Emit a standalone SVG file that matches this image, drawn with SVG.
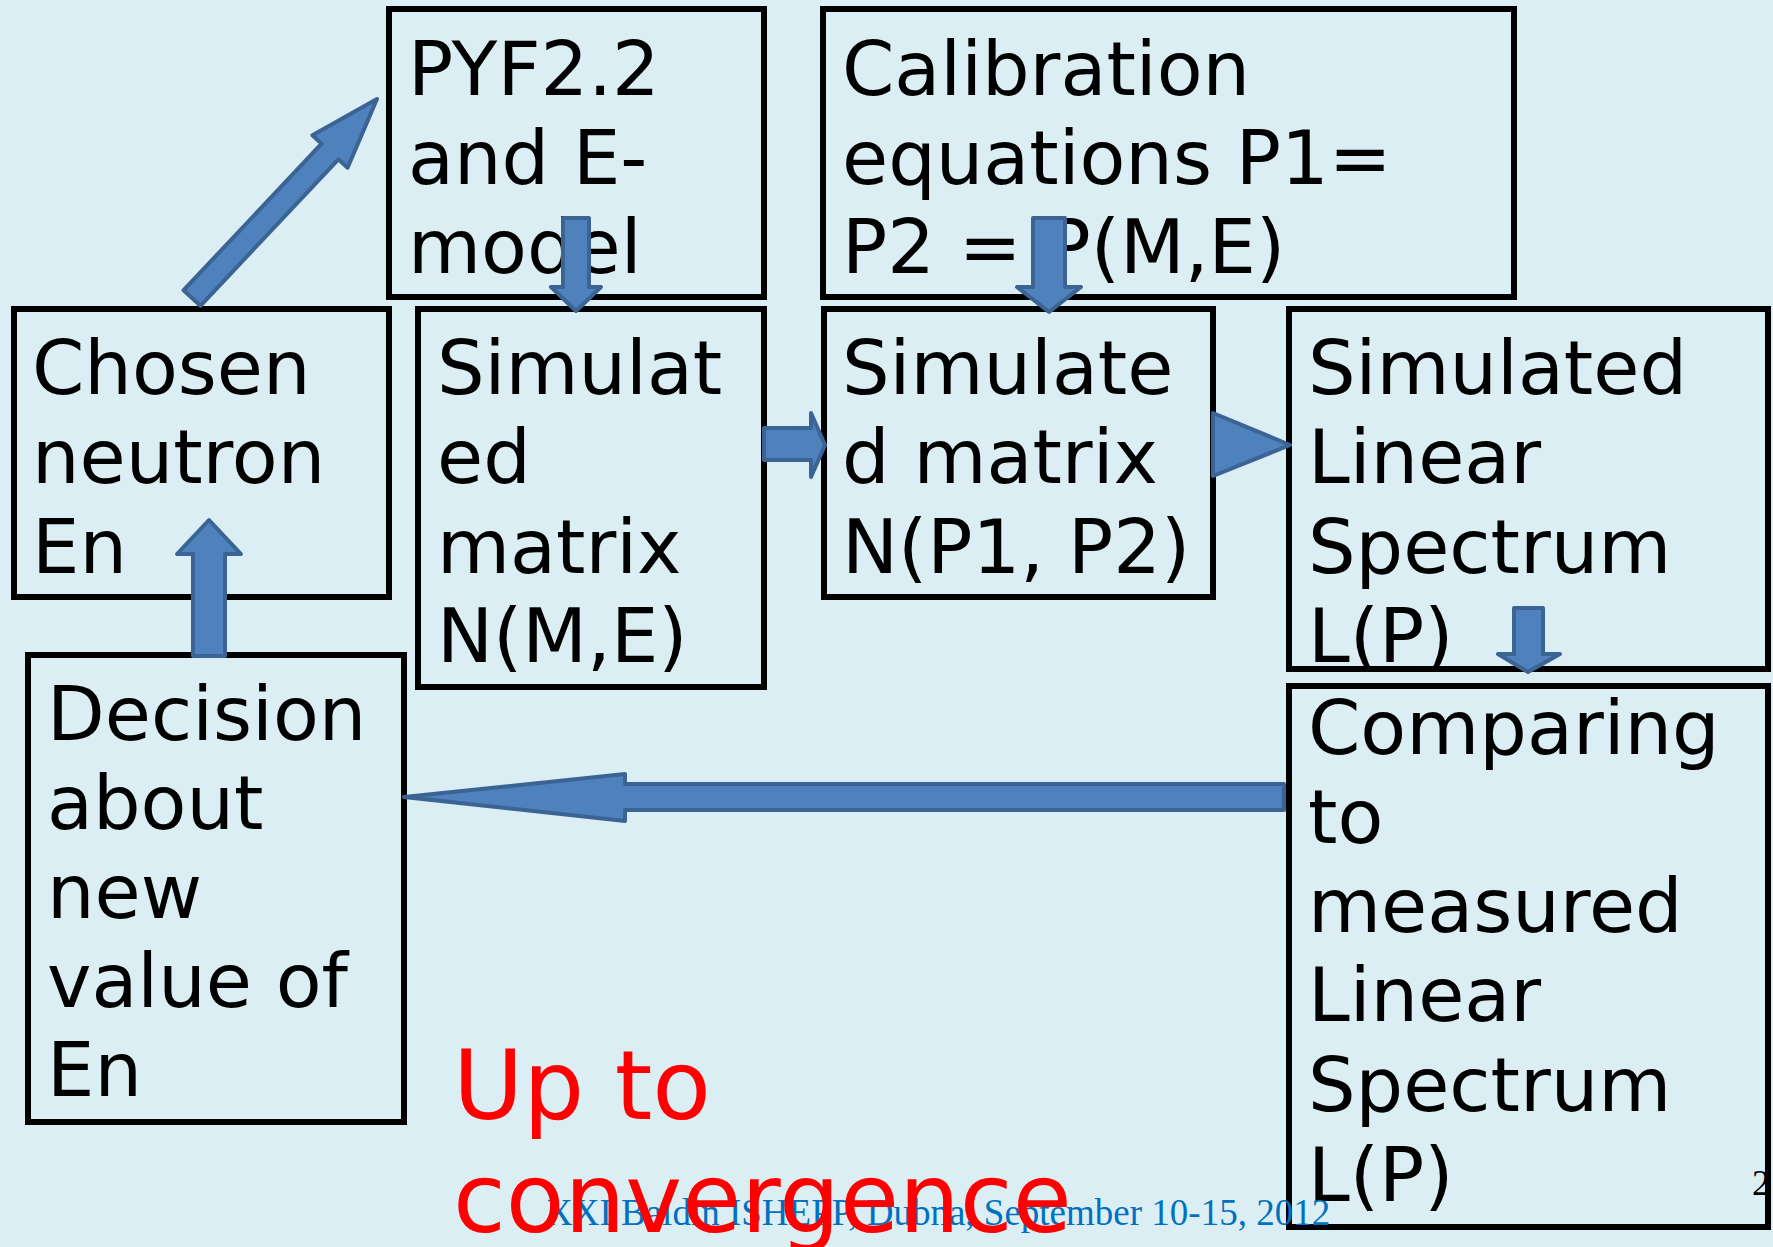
<svg xmlns="http://www.w3.org/2000/svg" width="1773" height="1247" viewBox="0 0 1773 1247">
<style>
.box{fill:none;stroke:#000;stroke-width:6;stroke-linejoin:miter}
.t{font-family:"DejaVu Sans",sans-serif;font-size:75px;fill:#000}
.arr{fill:#4F81BD;stroke:#3B6494;stroke-width:4;stroke-linejoin:round}
.red{font-family:"DejaVu Sans",sans-serif;font-size:96px;fill:#FF0000}
.foot{font-family:"Liberation Serif",serif;font-size:37px;fill:#0070C0}
</style>
<rect x="0" y="0" width="1773" height="1247" fill="#DBEEF4"/>

<g id="node-pyf">
<rect class="box" x="389" y="9" width="375" height="288"/>
<text class="t" x="408" y="95">PYF2.2</text>
<text class="t" x="408" y="184">and E-</text>
<text class="t" x="408" y="273">model</text>
</g>
<g id="node-calibration">
<rect class="box" x="823" y="9" width="691" height="288"/>
<text class="t" x="842" y="95">Calibration</text>
<text class="t" x="842" y="184">equations P1=</text>
<text class="t" x="842" y="273">P2 = P(M,E)</text>
</g>
<g id="node-chosen">
<rect class="box" x="14" y="309" width="375" height="288"/>
<text class="t" x="32" y="394">Chosen</text>
<text class="t" x="32" y="483">neutron</text>
<text class="t" x="32" y="573">En</text>
</g>
<g id="node-simME">
<rect class="box" x="418" y="309" width="346" height="378"/>
<text class="t" x="437" y="394">Simulat</text>
<text class="t" x="437" y="483">ed</text>
<text class="t" x="437" y="573">matrix</text>
<text class="t" x="437" y="662">N(M,E)</text>
</g>
<g id="node-simP">
<rect class="box" x="824" y="309" width="389" height="288"/>
<text class="t" x="842" y="394">Simulate</text>
<text class="t" x="842" y="483">d matrix</text>
<text class="t" x="842" y="573">N(P1, P2)</text>
</g>
<g id="node-simLinear">
<rect class="box" x="1289" y="309" width="479" height="360"/>
<text class="t" x="1308" y="394">Simulated</text>
<text class="t" x="1308" y="483">Linear</text>
<text class="t" x="1308" y="573">Spectrum</text>
<text class="t" x="1308" y="662">L(P)</text>
</g>
<g id="node-comparing">
<rect class="box" x="1289" y="686" width="479" height="541"/>
<text class="t" x="1308" y="754">Comparing</text>
<text class="t" x="1308" y="843">to</text>
<text class="t" x="1308" y="932">measured</text>
<text class="t" x="1308" y="1021">Linear</text>
<text class="t" x="1308" y="1111">Spectrum</text>
<text class="t" x="1308" y="1201">L(P)</text>
</g>
<g id="node-decision">
<rect class="box" x="28" y="655" width="376" height="467"/>
<text class="t" x="47" y="740">Decision</text>
<text class="t" x="47" y="829">about</text>
<text class="t" x="47" y="918">new</text>
<text class="t" x="47" y="1007">value of</text>
<text class="t" x="47" y="1096">En</text>
</g>

<g id="footer">
<text class="foot" x="546" y="1225">XXI Baldin ISHEPP, Dubna, September 10-15, 2012</text>
<text x="1752" y="1195" style="font-family:'Liberation Serif',serif;font-size:36px;fill:#000">2</text>
</g>
<g id="note-convergence">
<text class="red" x="453" y="1119">Up to</text>
<text class="red" x="453" y="1232">convergence</text>
</g>

<g id="connectors">
<polygon class="arr" points="183.6,290.2 321.6,143.7 312.4,135.2 377,99 347.6,167.8 338.4,159.3 200.4,305.8"/>
<polygon class="arr" points="563,218 589,218 589,287 601,287 576,311 551,287 563,287"/>
<polygon class="arr" points="1033,218 1065,218 1065,287 1081,287 1049,312 1017,287 1033,287"/>
<polygon class="arr" points="764,428 811,428 811,413 825,445 811,477 811,460 764,460"/>
<polygon class="arr" points="1213,413 1290,445 1213,476"/>
<polygon class="arr" points="1514,608 1543,608 1543,654 1560,654 1528,672 1498,654 1514,654"/>
<polygon class="arr" points="1284,784 625,784 625,774 404,797 625,821 625,810 1284,810"/>
<polygon class="arr" points="193,656 193,554 177,554 209,520 241,554 225,554 225,656"/>
</g>
</svg>
